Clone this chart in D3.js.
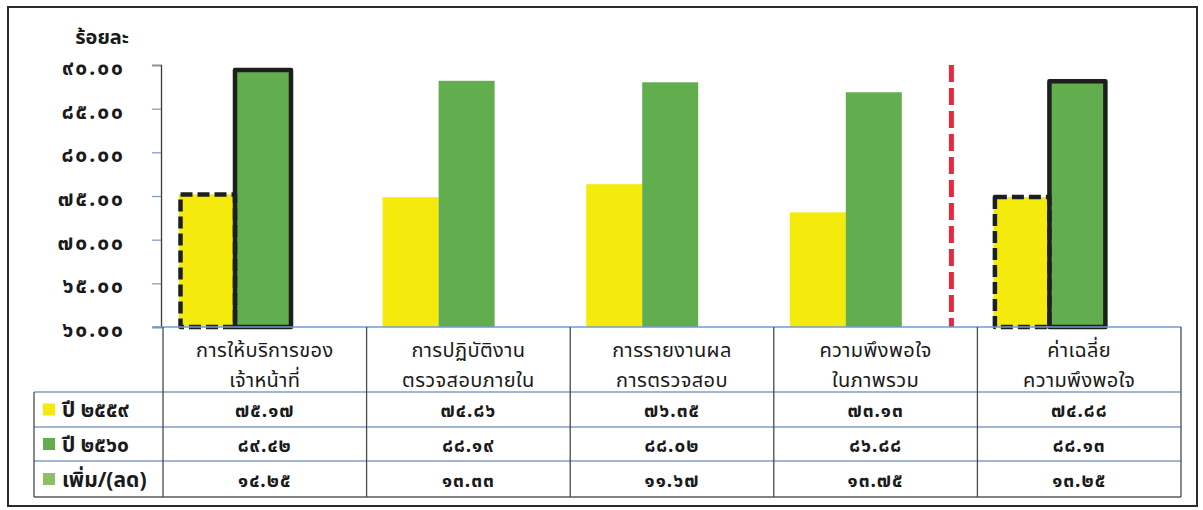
<!DOCTYPE html>
<html>
<head>
<meta charset="utf-8">
<script src="https://cdn.jsdelivr.net/npm/d3@7"></script>
<style>
  html, body { margin: 0; padding: 0; background: #fff; }
  svg { display: block; }
  text { font-family: "Noto Sans Thai", "Tahoma", "Leelawadee UI", "Noto Sans", "DejaVu Sans", sans-serif; fill: #1a1a1a; }
</style>
</head>
<body>
<svg id="chart" width="1203" height="510"></svg>
<script>
// Satisfaction survey, fiscal years 2559 vs 2560 (percent)
const categories = [
  ["การให้บริการของ", "เจ้าหน้าที่"],
  ["การปฏิบัติงาน", "ตรวจสอบภายใน"],
  ["การรายงานผล", "การตรวจสอบ"],
  ["ความพึงพอใจ", "ในภาพรวม"],
  ["ค่าเฉลี่ย", "ความพึงพอใจ"]
];
const seriesNames = ["ปี ๒๕๕๙", "ปี ๒๕๖๐", "เพิ่ม/(ลด)"];
const values2559 = [75.17, 74.86, 76.35, 73.13, 74.88];
const values2560 = [89.42, 88.19, 88.02, 86.88, 88.13];
const valuesChange = [14.25, 13.33, 11.67, 13.75, 13.25];
const yTicks = [60, 65, 70, 75, 80, 85, 90];
const yUnit = "ร้อยละ";
const highlighted = [0, 4];   // groups drawn with outlined bars

const seriesValues = [values2559, values2560, valuesChange];
const seriesColors = ["#f4ea0c", "#62ad4e", "#8dbf66"];

const thaiDigits = "๐๑๒๓๔๕๖๗๘๙";
const toThai = s => String(s).replace(/[0-9]/g, d => thaiDigits[+d]);
const fmt = v => toThai(v.toFixed(2));

const svg = d3.select("#chart");

// layout
const plotLeft = 163, plotRight = 1181;
const plotTop = 65, plotBottom = 327;
const headerBottom = 392;
const rowLines = [392, 427, 461, 497];
const legendLeft = 34;

const x0 = d3.scaleBand()
  .domain(d3.range(categories.length))
  .range([plotLeft, plotRight])
  .padding(0);
const x1 = d3.scaleBand()
  .domain(d3.range(seriesNames.length))
  .range([16, 16 + 168])
  .padding(0);
const y = d3.scaleLinear().domain([60, 90]).range([plotBottom, plotTop]);

// outer frame
svg.append("rect")
  .attr("x", 8).attr("y", 7)
  .attr("width", 1189).attr("height", 499)
  .attr("fill", "none").attr("stroke", "#2b2b2b").attr("stroke-width", 2);

// y axis
const yAxis = d3.axisLeft(y).tickValues(yTicks).tickSize(9).tickPadding(0).tickFormat(fmt);
const ag = svg.append("g").attr("transform", `translate(${plotLeft - 2},0)`).call(yAxis);
ag.select(".domain").attr("stroke", "#3a3a3a").attr("stroke-width", 1.3);
ag.selectAll(".tick line").attr("stroke", "#7d97b8").attr("stroke-width", 1.2);
ag.selectAll(".tick text")
  .attr("x", -36)
  .attr("dy", "0.45em")
  .style("font-size", "21px")
  .style("font-weight", "bold")
  .style("letter-spacing", "2px");

svg.append("text")
  .attr("x", 129).attr("y", 44)
  .attr("text-anchor", "end")
  .style("font-size", "20px")
  .style("font-weight", "bold")
  .text(yUnit);

// bars
const groups = svg.append("g").selectAll("g")
  .data(categories.map((c, i) => i))
  .join("g")
  .attr("transform", i => `translate(${x0(i)},0)`);

groups.selectAll("rect.bar")
  .data(i => seriesValues.map((vals, s) => ({ s, i, v: vals[i] })))
  .join("rect")
  .attr("class", "bar")
  .attr("x", d => x1(d.s))
  .attr("width", x1.bandwidth())
  .attr("y", d => y(Math.max(d.v, 60)))
  .attr("height", d => Math.max(0, y(60) - y(Math.max(d.v, 60))))
  .attr("fill", d => seriesColors[d.s]);

// outlines on the highlighted groups
groups.filter(i => highlighted.includes(i))
  .selectAll("rect.outline")
  .data(i => [0, 1].map(s => ({ s, i, v: seriesValues[s][i] })))
  .join("rect")
  .attr("class", "outline")
  .attr("x", d => x1(d.s) + (d.s === 0 ? 1.5 : 0))
  .attr("width", d => x1.bandwidth() - (d.s === 0 ? 1.5 : 0))
  .attr("y", d => y(d.v))
  .attr("height", d => y(60) - y(d.v))
  .attr("fill", "none")
  .attr("stroke", "#1c1f1c")
  .attr("stroke-width", 4.5)
  .attr("stroke-linejoin", "round")
  .attr("stroke-dasharray", d => d.s === 0 ? "12,5" : null);

// red divider before the average group
const dividerX = x0(4) - 26;
svg.append("line")
  .attr("x1", dividerX).attr("x2", dividerX)
  .attr("y1", y(90)).attr("y2", y(60))
  .attr("stroke", "#e8283c")
  .attr("stroke-width", 5)
  .attr("stroke-dasharray", "17,6");

// data table
const table = svg.append("g");
// baseline / header top
table.append("line")
  .attr("x1", plotLeft - 10).attr("x2", plotRight)
  .attr("y1", plotBottom).attr("y2", plotBottom)
  .attr("stroke", "#6f9bd0").attr("stroke-width", 1.3);
// horizontal row lines
rowLines.forEach((ly, k) => {
  table.append("line")
    .attr("x1", legendLeft).attr("x2", plotRight)
    .attr("y1", ly).attr("y2", ly)
    .attr("stroke", k === rowLines.length - 1 ? "#5a5a5a" : "#7f9ec6")
    .attr("stroke-width", 1.3);
});
// vertical lines
d3.range(categories.length + 1).forEach(k => {
  const lx = k === categories.length ? plotRight : x0(k);
  table.append("line")
    .attr("x1", lx).attr("x2", lx)
    .attr("y1", plotBottom).attr("y2", rowLines[rowLines.length - 1])
    .attr("stroke", "#4a4a4a").attr("stroke-width", 1.3);
});
table.append("line")
  .attr("x1", legendLeft).attr("x2", legendLeft)
  .attr("y1", headerBottom).attr("y2", rowLines[rowLines.length - 1])
  .attr("stroke", "#4a4a4a").attr("stroke-width", 1.3);

// category headers
categories.forEach((lines, i) => {
  const cx = x0(i) + x0.bandwidth() / 2;
  lines.forEach((t, j) => {
    table.append("text")
      .attr("x", cx).attr("y", 357 + j * 30)
      .attr("text-anchor", "middle")
      .style("font-size", "20px")
      .style("letter-spacing", "0.4px")
      .text(t);
  });
});

// series rows
seriesNames.forEach((name, s) => {
  const top = rowLines[s], bot = rowLines[s + 1];
  const cy = (top + bot) / 2;
  table.append("rect")
    .attr("x", 43).attr("y", cy - 6)
    .attr("width", 12).attr("height", 12)
    .attr("fill", seriesColors[s]);
  table.append("text")
    .attr("x", 62).attr("y", cy)
    .attr("dy", "0.38em")
    .style("font-size", "21px")
    .style("font-weight", "bold")
    .text(name);
  seriesValues[s].forEach((v, i) => {
    table.append("text")
      .attr("x", x0(i) + x0.bandwidth() / 2).attr("y", cy)
      .attr("dy", "0.42em")
      .attr("text-anchor", "middle")
      .style("font-size", "19px")
      .style("font-weight", "bold")
      .style("letter-spacing", "1px")
      .text(fmt(v));
  });
});
</script>
</body>
</html>
